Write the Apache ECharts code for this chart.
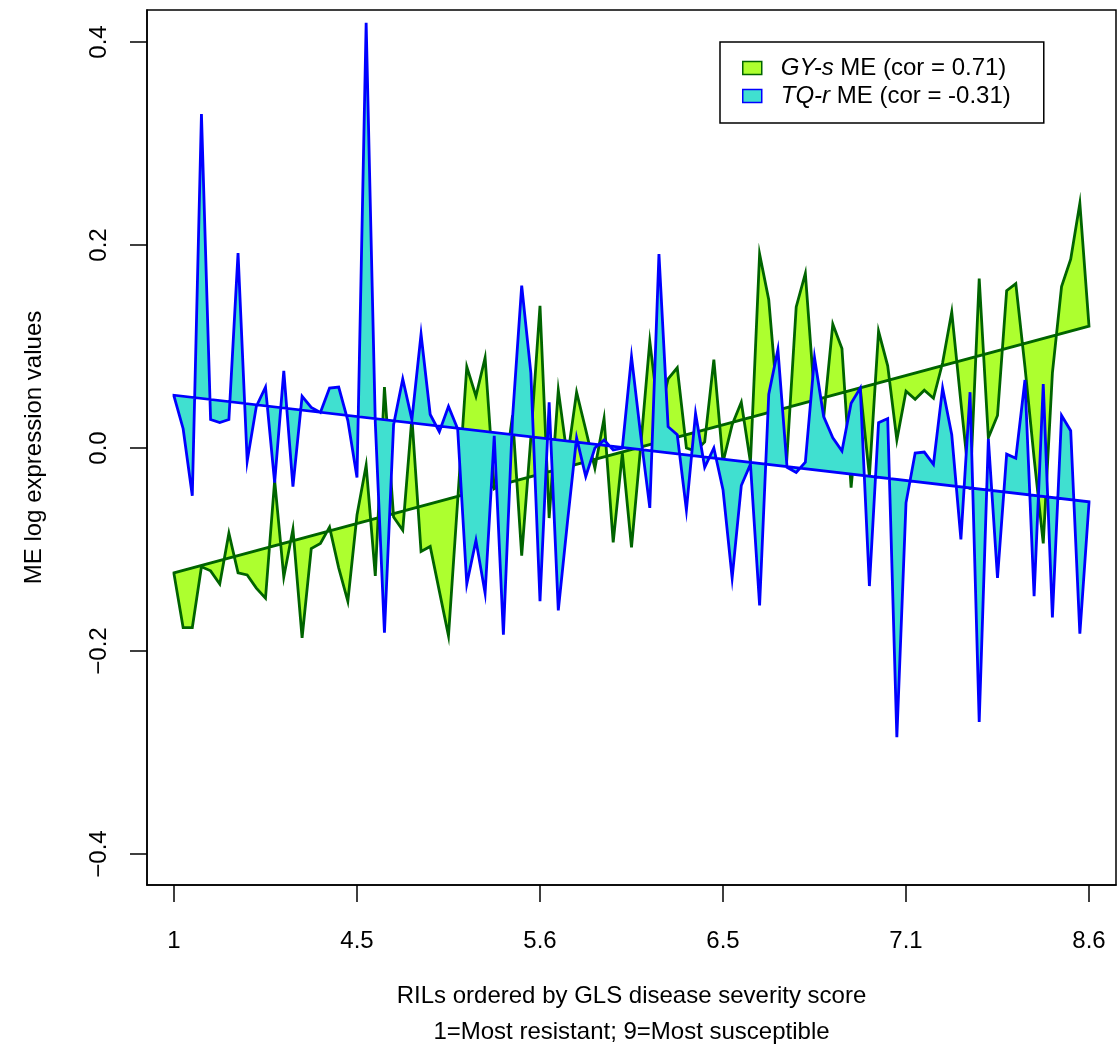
<!DOCTYPE html>
<html>
<head>
<meta charset="utf-8">
<script src="https://cdn.jsdelivr.net/npm/echarts@6/dist/echarts.min.js"></script>
<style>
html,body{margin:0;padding:0;background:#fff;}
#chart{width:1117px;height:1055px;}
</style>
</head>
<body>
<div id="chart"></div>
<script>
// RIL index positions (0..100) and their tick labels (GLS score)
const xTickPos = [0, 20, 40, 60, 80, 100];
const xTickLabels = ['1', '4.5', '5.6', '6.5', '7.1', '8.6'];
const yTickPos = [-0.4, -0.2, 0, 0.2, 0.4];
const yTickLabels = ['\u22120.4', '\u22120.2', '0.0', '0.2', '0.4'];

// GY-s ME values, RILs ordered by GLS score
const gysME = [
 -0.124, -0.177, -0.177, -0.117, -0.121, -0.134, -0.084, -0.123, -0.125, -0.138,
 -0.148, -0.032, -0.127, -0.080, -0.187, -0.099, -0.094, -0.078, -0.118, -0.151,
 -0.066, -0.017, -0.126,  0.060, -0.068, -0.081,  0.030, -0.102, -0.097, -0.141,
 -0.185, -0.052,  0.080,  0.051,  0.089, -0.040, -0.035,  0.032, -0.106,  0.010,
  0.140, -0.069,  0.057, -0.010,  0.055,  0.018, -0.020,  0.029, -0.093, -0.005,
 -0.098,  0.001,  0.105,  0.030,  0.068,  0.079,  0.000, -0.003,  0.006,  0.087,
 -0.014,  0.023,  0.045, -0.014,  0.191,  0.146,  0.040, -0.007,  0.139,  0.172,
  0.050,  0.030,  0.122,  0.098, -0.039,  0.059, -0.028,  0.115,  0.081,  0.008,
  0.056,  0.048,  0.057,  0.049,  0.084,  0.134,  0.045, -0.041,  0.167,  0.010,
  0.032,  0.155,  0.162,  0.080, -0.010, -0.094,  0.074,  0.159,  0.186,  0.241,
  0.120
];
// TQ-r ME values
const tqrME = [
  0.051,  0.019, -0.047,  0.329,  0.028,  0.025,  0.028,  0.192, -0.013,  0.041,
  0.060, -0.034,  0.076, -0.038,  0.051,  0.040,  0.035,  0.059,  0.060,  0.027,
 -0.029,  0.419,  0.025, -0.182,  0.023,  0.068,  0.028,  0.112,  0.033,  0.016,
  0.041,  0.019, -0.134, -0.091, -0.143,  0.012, -0.184,  0.030,  0.160,  0.074,
 -0.151,  0.045, -0.160, -0.073,  0.010, -0.028,  0.000,  0.008, -0.002,  0.000,
  0.090,  0.013, -0.059,  0.191,  0.021,  0.013, -0.061,  0.034, -0.019,  0.000,
 -0.041, -0.128, -0.037, -0.016, -0.155,  0.053,  0.097, -0.019, -0.024, -0.014,
  0.089,  0.031,  0.010, -0.003,  0.044,  0.059, -0.136,  0.025,  0.029, -0.285,
 -0.054, -0.005, -0.004, -0.016,  0.059,  0.013, -0.090,  0.055, -0.270,  0.009,
 -0.128, -0.006, -0.010,  0.067, -0.146,  0.063, -0.167,  0.032,  0.017, -0.183,
 -0.054
];
// fitted trend lines: value at first and last RIL
const gysFit = [-0.123, 0.120];
const tqrFit = [0.052, -0.053];

const seriesNames = ['GY-s ME (cor = 0.71)', 'TQ-r ME (cor = -0.31)'];
const legendRich = {
  'GY-s ME (cor = 0.71)': '{i|GY-s} ME (cor = 0.71)',
  'TQ-r ME (cor = -0.31)': '{i|TQ-r} ME (cor = -0.31)'
};

function polyRenderer(vals, fit, fill, stroke) {
  return function (params, api) {
    const n = vals.length - 1;
    const pts = vals.map((v, i) => api.coord([i, v]));
    pts.push(api.coord([n, fit[1]]));
    pts.push(api.coord([0, fit[0]]));
    return {
      type: 'polygon',
      shape: { points: pts },
      style: { fill: fill, stroke: stroke, lineWidth: 2.8, lineJoin: 'miter', miterLimit: 10 }
    };
  };
}

const FONT = 'Liberation Sans, Arial, Helvetica, sans-serif';
const chart = echarts.init(document.getElementById('chart'), null, { renderer: 'canvas' });
chart.setOption({
  animation: false,
  backgroundColor: '#fff',
  grid: {
    left: 147, top: 10, width: 969, height: 878,
    show: true, borderColor: '#000', borderWidth: 1.5, backgroundColor: 'transparent'
  },
  legend: {
    orient: 'vertical',
    left: 720, top: 42,
    padding: [14, 33, 15, 22],
    itemGap: 4,
    itemWidth: 19, itemHeight: 13,
    borderColor: '#000', borderWidth: 1.5,
    backgroundColor: '#fff',
    selectedMode: false,
    data: [
      { name: seriesNames[0], icon: 'rect', itemStyle: { color: '#ADFF2F', borderColor: '#006400', borderWidth: 1.5 } },
      { name: seriesNames[1], icon: 'rect', itemStyle: { color: '#40E0D0', borderColor: '#0000FF', borderWidth: 1.5 } }
    ],
    formatter: function (name) { return legendRich[name]; },
    textStyle: {
      fontFamily: FONT, fontSize: 24, color: '#000', padding: [0, 0, 0, 14],
      rich: { i: { fontFamily: FONT, fontSize: 24, fontStyle: 'italic', color: '#000' } }
    }
  },
  xAxis: {
    type: 'value',
    min: -2.95, max: 102.95,
    splitLine: { show: false },
    axisLine: { show: true, onZero: false, lineStyle: { color: '#000', width: 1.5 } },
    axisTick: { show: true, customValues: xTickPos, length: 17, lineStyle: { color: '#000', width: 1.5 } },
    axisLabel: {
      customValues: xTickPos,
      formatter: function (v) { const k = xTickPos.indexOf(Math.round(v)); return k >= 0 ? xTickLabels[k] : ''; },
      margin: 44, fontSize: 24, fontFamily: FONT, color: '#000'
    },
    name: 'RILs ordered by GLS disease severity score\n1=Most resistant; 9=Most susceptible',
    nameLocation: 'middle',
    nameGap: 93,
    nameTextStyle: { fontSize: 24, fontFamily: FONT, color: '#000', lineHeight: 36 }
  },
  yAxis: {
    type: 'value',
    min: -0.4305, max: 0.4315,
    splitLine: { show: false },
    axisLine: { show: true, onZero: false, lineStyle: { color: '#000', width: 1.5 } },
    axisTick: { show: true, customValues: yTickPos, length: 17, lineStyle: { color: '#000', width: 1.5 } },
    axisLabel: {
      customValues: yTickPos,
      rotate: 90,
      formatter: function (v) {
        for (let k = 0; k < yTickPos.length; k++) if (Math.abs(yTickPos[k] - v) < 1e-6) return yTickLabels[k];
        return '';
      },
      margin: 36, fontSize: 24, fontFamily: FONT, color: '#000'
    },
    name: 'ME log expression values',
    nameLocation: 'middle',
    nameRotate: 90,
    nameGap: 101,
    nameTextStyle: { fontSize: 24, fontFamily: FONT, color: '#000' }
  },
  series: [
    {
      name: seriesNames[0], type: 'custom', coordinateSystem: 'cartesian2d',
      itemStyle: { color: '#ADFF2F', borderColor: '#006400' },
      data: [[0, gysME[0]]],
      renderItem: polyRenderer(gysME, gysFit, '#ADFF2F', '#006400'),
      silent: true
    },
    {
      name: seriesNames[1], type: 'custom', coordinateSystem: 'cartesian2d',
      itemStyle: { color: '#40E0D0', borderColor: '#0000FF' },
      data: [[0, tqrME[0]]],
      renderItem: polyRenderer(tqrME, tqrFit, '#40E0D0', '#0000FF'),
      silent: true
    }
  ]
});
</script>
</body>
</html>
